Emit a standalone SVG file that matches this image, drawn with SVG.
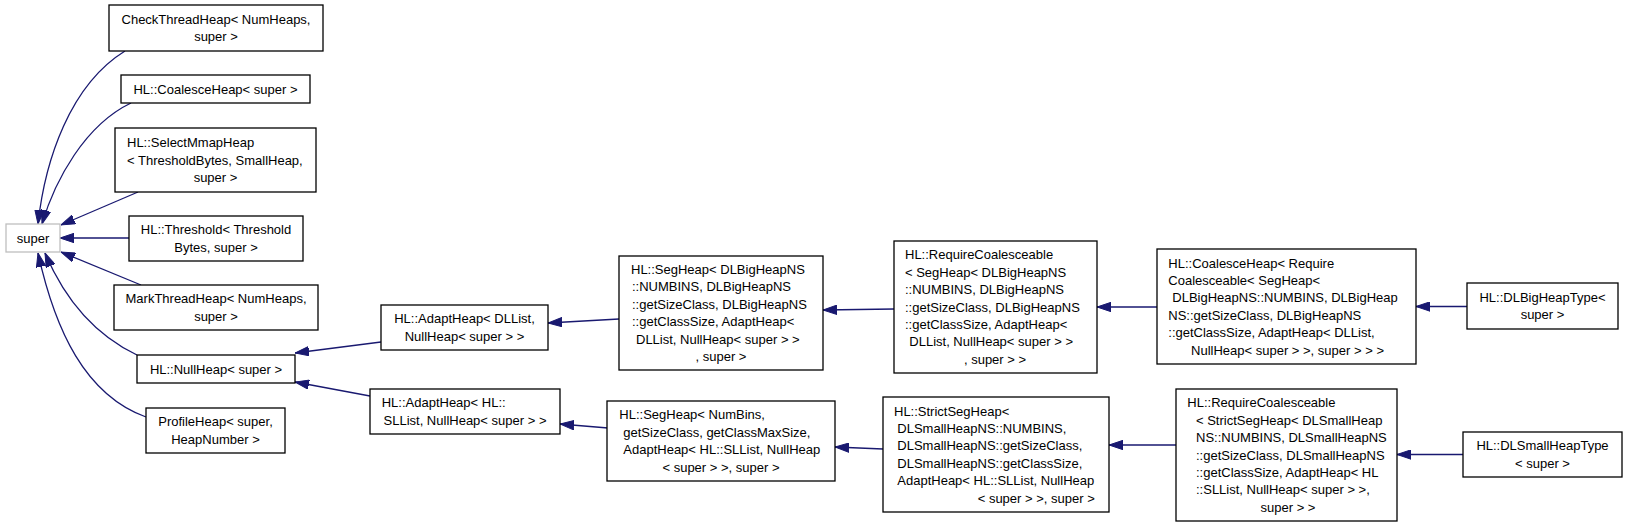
<svg xmlns="http://www.w3.org/2000/svg" width="1627" height="527" viewBox="0 0 1627 527">
<style>
.n rect{fill:#fff;stroke:#000;stroke-width:1.3}
.g rect{fill:#fff;stroke:#bfbfbf;stroke-width:1.3}
text{font-family:"Liberation Sans",Arial,sans-serif;font-size:13px;fill:#000}
.c{text-anchor:middle}
#edges path{fill:none;stroke:#191970;stroke-width:1.3;marker-end:url(#ah)}
</style>
<defs>
<marker id="ah" markerUnits="userSpaceOnUse" markerWidth="14" markerHeight="10" viewBox="0 0 14 10" refX="14" refY="5" orient="auto">
<path d="M0,0.3 L14,5 L0,9.7 z" fill="#191970" stroke="#191970" stroke-width="1"/>
</marker>
</defs>
<rect width="1627" height="527" fill="#fff"/>
<g id="edges">
<path d="M125,51 C70,85 45,160 38,224"/>
<path d="M131,103 C85,125 55,180 42,224"/>
<path d="M138,192 L61,225"/>
<path d="M129,238 L60,238"/>
<path d="M141,285 L61,252"/>
<path d="M137,355 C95,335 65,300 45,253"/>
<path d="M146,417 C85,395 55,330 38,253"/>
<path d="M381,342 L295,353"/>
<path d="M370,396 L295,382"/>
<path d="M619,319 L548,323"/>
<path d="M608,428 L560,424"/>
<path d="M894,309 L823,310"/>
<path d="M1157,307 L1097,307"/>
<path d="M1467,306.5 L1416,306.5"/>
<path d="M883,449 L835,447"/>
<path d="M1176,445 L1109,445"/>
<path d="M1463,454.5 L1397,454.5"/>
</g>
<g id="super" class="g"><rect x="6" y="224" width="54" height="28"/><text class="c" x="33" y="242.5">super</text></g>
<g id="checkthreadheap" class="n"><rect x="109" y="5" width="214" height="46"/><text class="c" x="216" y="23.8">CheckThreadHeap&lt; NumHeaps,</text><text class="c" x="216" y="41.2">super &gt;</text></g>
<g id="coalesceheap" class="n"><rect x="121" y="75" width="189" height="28"/><text class="c" x="215.5" y="93.5">HL::CoalesceHeap&lt; super &gt;</text></g>
<g id="selectmmapheap" class="n"><rect x="115" y="128" width="201" height="64"/><text x="127" y="147.1">HL::SelectMmapHeap</text><text x="127" y="164.5">&lt; ThresholdBytes, SmallHeap,</text><text class="c" x="215.5" y="181.9">super &gt;</text></g>
<g id="threshold" class="n"><rect x="129" y="216" width="174" height="45"/><text class="c" x="216" y="234.3">HL::Threshold&lt; Threshold</text><text class="c" x="216" y="251.7">Bytes, super &gt;</text></g>
<g id="markthreadheap" class="n"><rect x="114" y="285" width="204" height="45"/><text class="c" x="216" y="303.3">MarkThreadHeap&lt; NumHeaps,</text><text class="c" x="216" y="320.7">super &gt;</text></g>
<g id="nullheap" class="n"><rect x="137" y="355" width="158" height="28"/><text class="c" x="216" y="373.5">HL::NullHeap&lt; super &gt;</text></g>
<g id="profileheap" class="n"><rect x="146" y="408" width="139" height="45"/><text class="c" x="215.5" y="426.3">ProfileHeap&lt; super,</text><text class="c" x="215.5" y="443.7">HeapNumber &gt;</text></g>
<g id="adaptheap_dllist" class="n"><rect x="381" y="305" width="167" height="45"/><text class="c" x="464.5" y="323.3">HL::AdaptHeap&lt; DLList,</text><text class="c" x="464.5" y="340.7">NullHeap&lt; super &gt; &gt;</text></g>
<g id="adaptheap_sllist" class="n"><rect x="370" y="389" width="190" height="45"/><text x="381.7" y="407.3">HL::AdaptHeap&lt; HL::</text><text class="c" x="465" y="424.7">SLList, NullHeap&lt; super &gt; &gt;</text></g>
<g id="segheap_dlbig" class="n"><rect x="619" y="256" width="204" height="114"/><text x="631" y="274">HL::SegHeap&lt; DLBigHeapNS</text><text x="632" y="291.4">::NUMBINS, DLBigHeapNS</text><text x="632" y="308.8">::getSizeClass, DLBigHeapNS</text><text x="632" y="326.2">::getClassSize, AdaptHeap&lt;</text><text x="636" y="343.6">DLList, NullHeap&lt; super &gt; &gt;</text><text class="c" x="721" y="361">, super &gt;</text></g>
<g id="segheap_numbins" class="n"><rect x="607" y="401" width="228" height="80"/><text x="619.3" y="419.4">HL::SegHeap&lt; NumBins,</text><text x="623.3" y="436.8">getSizeClass, getClassMaxSize,</text><text x="623.3" y="454.2">AdaptHeap&lt; HL::SLList, NullHeap</text><text class="c" x="721" y="471.6">&lt; super &gt; &gt;, super &gt;</text></g>
<g id="requirecoalesceable_big" class="n"><rect x="894" y="241" width="203" height="132"/><text x="905" y="259.3">HL::RequireCoalesceable</text><text x="905" y="276.7">&lt; SegHeap&lt; DLBigHeapNS</text><text x="905" y="294.1">::NUMBINS, DLBigHeapNS</text><text x="905" y="311.5">::getSizeClass, DLBigHeapNS</text><text x="905" y="328.9">::getClassSize, AdaptHeap&lt;</text><text x="909.3" y="346.3">DLList, NullHeap&lt; super &gt; &gt;</text><text class="c" x="995" y="363.7">, super &gt; &gt;</text></g>
<g id="strictsegheap" class="n"><rect x="883" y="397" width="226" height="115"/><text x="894" y="415.5">HL::StrictSegHeap&lt;</text><text x="897.3" y="432.9">DLSmallHeapNS::NUMBINS,</text><text x="897.3" y="450.3">DLSmallHeapNS::getSizeClass,</text><text x="897.3" y="467.7">DLSmallHeapNS::getClassSize,</text><text x="897.3" y="485.1">AdaptHeap&lt; HL::SLList, NullHeap</text><text x="977.7" y="502.5">&lt; super &gt; &gt;, super &gt;</text></g>
<g id="coalesceheap_require" class="n"><rect x="1157" y="249" width="259" height="115"/><text x="1168.3" y="267.5">HL::CoalesceHeap&lt; Require</text><text x="1168.3" y="284.9">Coalesceable&lt; SegHeap&lt;</text><text x="1172.3" y="302.3">DLBigHeapNS::NUMBINS, DLBigHeap</text><text x="1168.3" y="319.7">NS::getSizeClass, DLBigHeapNS</text><text x="1168.3" y="337.1">::getClassSize, AdaptHeap&lt; DLList,</text><text class="c" x="1287.5" y="354.5">NullHeap&lt; super &gt; &gt;, super &gt; &gt; &gt;</text></g>
<g id="dlbigheaptype" class="n"><rect x="1467" y="283" width="151" height="46"/><text class="c" x="1542.5" y="301.8">HL::DLBigHeapType&lt;</text><text class="c" x="1542.5" y="319.2">super &gt;</text></g>
<g id="requirecoalesceable_small" class="n"><rect x="1176" y="389" width="221" height="132"/><text x="1187.3" y="407.3">HL::RequireCoalesceable</text><text x="1196" y="424.7">&lt; StrictSegHeap&lt; DLSmallHeap</text><text x="1196" y="442.1">NS::NUMBINS, DLSmallHeapNS</text><text x="1196" y="459.5">::getSizeClass, DLSmallHeapNS</text><text x="1196" y="476.9">::getClassSize, AdaptHeap&lt; HL</text><text x="1196" y="494.3">::SLList, NullHeap&lt; super &gt; &gt;,</text><text class="c" x="1288" y="511.7">super &gt; &gt;</text></g>
<g id="dlsmallheaptype" class="n"><rect x="1463" y="432" width="159" height="45"/><text class="c" x="1542.5" y="450.3">HL::DLSmallHeapType</text><text class="c" x="1542.5" y="467.7">&lt; super &gt;</text></g>
</svg>
